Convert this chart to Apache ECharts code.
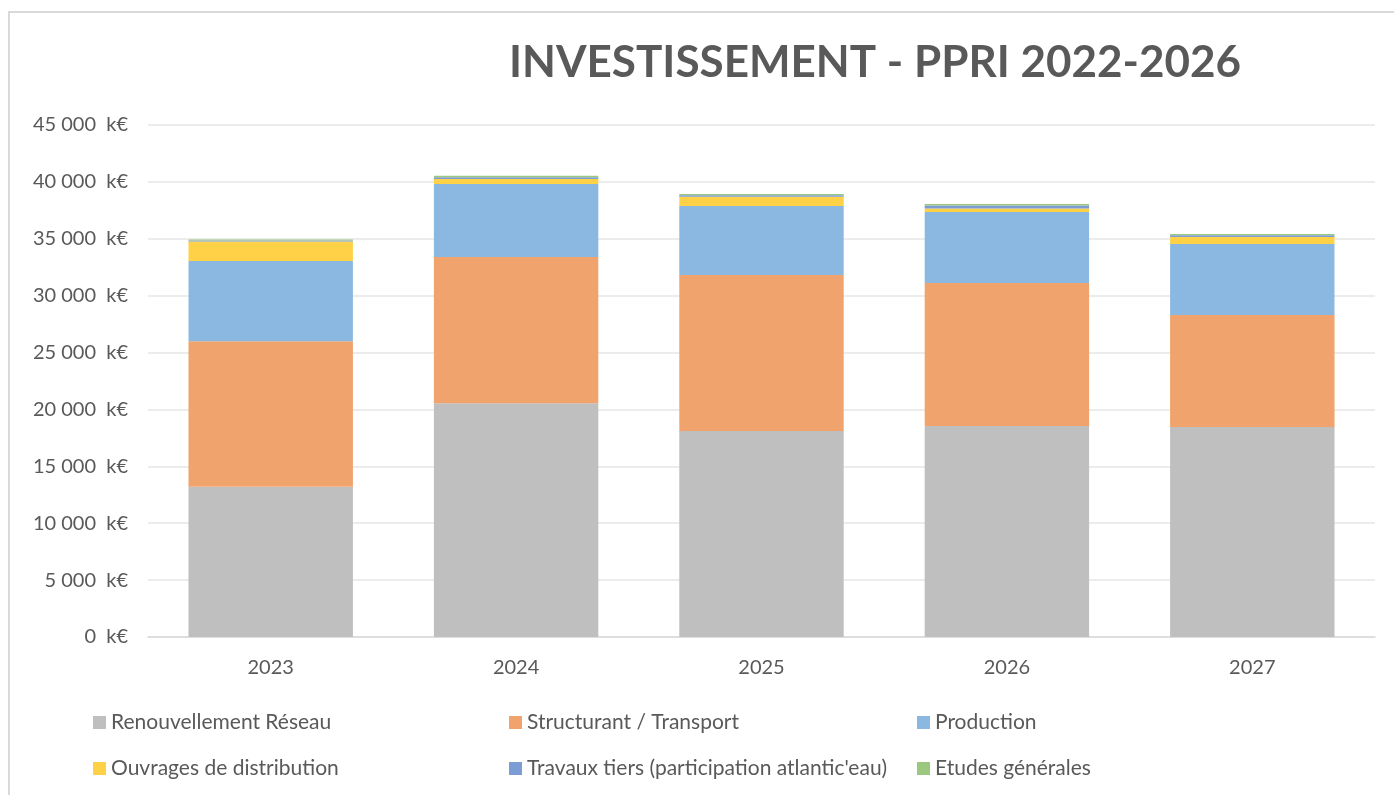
<!DOCTYPE html>
<html>
<head>
<meta charset="utf-8">
<title>Investissement - PPRI 2022-2026</title>
<script src="https://cdn.jsdelivr.net/npm/echarts@6/dist/echarts.min.js"></script>
<style>
  html, body { margin: 0; padding: 0; background: #fff; }
  #chart { width: 1394px; height: 795px; }
</style>
</head>
<body>
<div id="chart"></div>
<script>
// données (k€)
const years = ['2023', '2024', '2025', '2026', '2027'];
const renouvellement = [13200, 20550, 18100, 18540, 18460];
const structurant = [12800, 12850, 13720, 12570, 9840];
const production = [7050, 6410, 6060, 6240, 6240];
const ouvrages = [1700, 440, 820, 320, 620];
const travauxTiers = [100, 150, 120, 260, 140];
const etudes = [80, 140, 110, 120, 120];

const seriesNames = [
  'Renouvellement Réseau',
  'Structurant / Transport',
  'Production',
  'Ouvrages de distribution',
  "Travaux tiers (participation atlantic'eau)",
  'Etudes générales'
];
const seriesData = [renouvellement, structurant, production, ouvrages, travauxTiers, etudes];
const colors = ['#BFBFBF', '#F0A36C', '#8BB8E1', '#FFD147', '#7C9CD5', '#9CC77F'];

const font = 'Lato, "Open Sans", sans-serif';
const textGray = '#595959';

function fmt(v) {
  return String(v).replace(/\B(?=(\d{3})+(?!\d))/g, ' ') + '  k€';
}

// une légende par élément, pour caler les colonnes comme dans Excel
const legendPos = [
  [88, 707], [504, 707], [912, 707],
  [88, 753], [504, 753], [912, 753]
];
const legends = seriesNames.map((name, i) => ({
  data: [name],
  left: legendPos[i][0],
  top: legendPos[i][1],
  icon: 'rect',
  itemWidth: 13,
  itemHeight: 13,
  itemGap: 6,
  textStyle: { color: textGray, fontSize: 21, fontFamily: font, padding: [0, 0, 0, 0] },
  selectedMode: false
}));

const chart = echarts.init(document.getElementById('chart'));
chart.setOption({
  animation: false,
  color: colors,
  title: {
    text: 'INVESTISSEMENT - PPRI 2022-2026',
    left: 870,
    top: 36,
    textAlign: 'center',
    textStyle: { color: textGray, fontSize: 44, fontWeight: 'bold', fontFamily: font }
  },
  legend: legends,
  grid: { left: 148, right: 19, top: 125, bottom: 158, containLabel: false },
  xAxis: {
    type: 'category',
    data: years,
    axisLine: { lineStyle: { color: '#D9D9D9', width: 1.5 } },
    axisTick: { show: false },
    axisLabel: { color: textGray, fontSize: 20, fontFamily: font, margin: 21 }
  },
  yAxis: {
    type: 'value',
    min: 0,
    max: 45000,
    interval: 5000,
    axisLine: { show: false },
    axisTick: { show: false },
    splitLine: { lineStyle: { color: '#E6E6E6', width: 1.5 } },
    axisLabel: { color: textGray, fontSize: 20, fontFamily: font, margin: 20, formatter: fmt }
  },
  graphic: [{
    type: 'polyline',
    shape: { points: [[9, 795], [9, 12], [1394, 12]] },
    style: { stroke: '#D9D9D9', lineWidth: 2, fill: null }
  }],
  series: seriesNames.map((name, i) => ({
    name: name,
    type: 'bar',
    stack: 'total',
    barCategoryGap: '33%',
    data: seriesData[i],
    itemStyle: { color: colors[i] }
  }))
});
</script>
</body>
</html>
